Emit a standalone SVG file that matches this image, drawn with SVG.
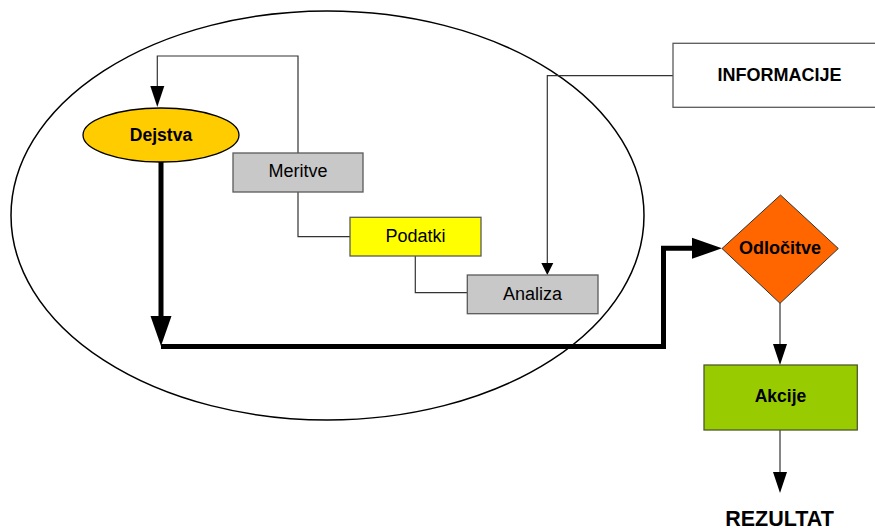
<svg xmlns="http://www.w3.org/2000/svg" width="875" height="530" viewBox="0 0 875 530">
  <style>
    text { font-family: "Liberation Sans", Arial, sans-serif; fill: #000; text-anchor: middle; }
    .b { font-weight: bold; }
    .box { stroke: #5a5a5a; stroke-width: 1.3; }
    .thin { fill: none; stroke: #333; stroke-width: 1.2; }
    .thick { fill: none; stroke: #000; stroke-width: 5; stroke-linejoin: miter; }
  </style>
  <defs>
    <marker id="a-s" markerUnits="userSpaceOnUse" orient="auto" refX="0" refY="0" markerWidth="12" markerHeight="12" overflow="visible">
      <path d="M0,-6 L12,0 L0,6 z" fill="#000"/>
    </marker>
    <marker id="a-m" markerUnits="userSpaceOnUse" orient="auto" refX="0" refY="0" markerWidth="21" markerHeight="14" overflow="visible">
      <path d="M0,-7 L21,0 L0,7 z" fill="#000"/>
    </marker>
    <marker id="a-l" markerUnits="userSpaceOnUse" orient="auto" refX="0" refY="0" markerWidth="31" markerHeight="21" overflow="visible">
      <path d="M0,-10.5 L30,0 L0,10.5 z" fill="#000"/>
    </marker>
  </defs>

  <rect width="875" height="530" fill="#fff"/>

  <!-- enclosing process loop -->
  <ellipse id="loop" cx="327.5" cy="215.5" rx="316.5" ry="204.5" fill="none" stroke="#000" stroke-width="1.5"/>

  <g id="connectors">
    <path class="thin" d="M298,153 V56 H157.3 V86" marker-end="url(#a-m)"/>
    <path class="thin" d="M298,192 V236.7 H350"/>
    <path class="thin" d="M415.3,256 V292.7 H467"/>
    <path class="thin" d="M673,75.7 H547.3 V263" marker-end="url(#a-s)"/>
    <path class="thick" d="M161,162 V316" marker-end="url(#a-l)"/>
    <path class="thick" d="M161,346.5 H663.5 V248.3 H692" marker-end="url(#a-l)"/>
    <path class="thin" d="M780,303 V344" marker-end="url(#a-m)"/>
    <path class="thin" d="M780,430 V472" marker-end="url(#a-m)"/>
  </g>

  <g id="dejstva">
    <ellipse cx="161" cy="135" rx="78" ry="27" fill="#ffcc00" stroke="#000" stroke-width="1.3"/>
    <text class="b" x="161" y="140.7" font-size="17.5">Dejstva</text>
  </g>

  <g id="meritve">
    <rect class="box" x="233" y="153" width="130" height="39" fill="#c8c8c8"/>
    <text x="298" y="177.3" font-size="18">Meritve</text>
  </g>

  <g id="podatki">
    <rect class="box" x="350" y="217.3" width="131" height="38.7" fill="#ffff00"/>
    <text x="415.5" y="242.3" font-size="18">Podatki</text>
  </g>

  <g id="analiza">
    <rect class="box" x="467.3" y="275" width="130.7" height="38.7" fill="#c8c8c8"/>
    <text x="532.5" y="300" font-size="18">Analiza</text>
  </g>

  <g id="informacije">
    <rect class="box" x="673" y="43.3" width="210" height="64" fill="#fff"/>
    <text class="b" x="779.5" y="80.7" font-size="18">INFORMACIJE</text>
  </g>

  <g id="odlocitve">
    <path d="M722,248.5 L780.5,195 L838.3,248.5 L780,303.3 z" fill="#ff6600" stroke="#333" stroke-width="1"/>
    <text class="b" x="780" y="254.3" font-size="18">Odločitve</text>
  </g>

  <g id="akcije">
    <rect x="704" y="365" width="153.3" height="65" fill="#99cc00" stroke="#4f5a2a" stroke-width="1.3"/>
    <text class="b" x="780.5" y="401.7" font-size="17.5">Akcije</text>
  </g>

  <g id="rezultat">
    <text class="b" x="779.5" y="526" font-size="21.5">REZULTAT</text>
  </g>
</svg>
